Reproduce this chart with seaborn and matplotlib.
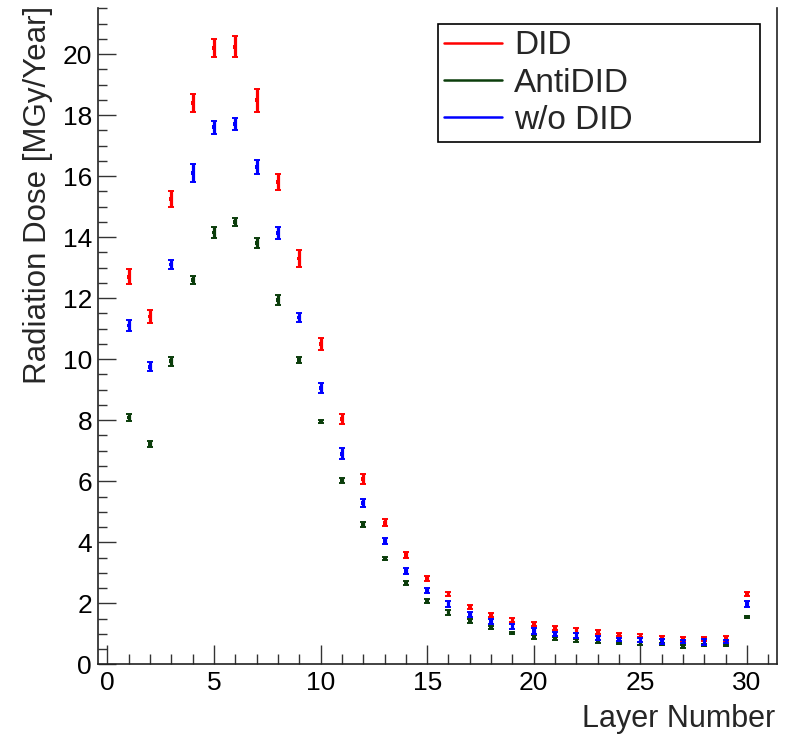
import matplotlib
matplotlib.use("Agg")
import matplotlib.pyplot as plt
from matplotlib.lines import Line2D
from matplotlib.ticker import MultipleLocator
import numpy as np
import pandas as pd
import seaborn as sns

layers = list(range(1, 31))

did = [12.7, 11.4, 15.25, 18.4, 20.2, 20.24, 18.49, 15.8, 13.3, 10.5,
       8.05, 6.07, 4.64, 3.58, 2.80, 2.30, 1.87, 1.62, 1.45, 1.32,
       1.18, 1.10, 1.05, 0.98, 0.94, 0.89, 0.83, 0.83, 0.85, 2.31]
did_err = [0.25, 0.20, 0.27, 0.30, 0.30, 0.34, 0.38, 0.26, 0.27, 0.20,
           0.16, 0.16, 0.12, 0.09, 0.08, 0.06, 0.07, 0.07, 0.06, 0.06,
           0.07, 0.08, 0.06, 0.06, 0.05, 0.05, 0.05, 0.05, 0.07, 0.07]

antidid = [8.09, 7.22, 9.93, 12.6, 14.15, 14.5, 13.8, 11.94, 9.97, 7.95,
           6.03, 4.57, 3.46, 2.66, 2.08, 1.69, 1.42, 1.20, 1.03, 0.90,
           0.86, 0.78, 0.75, 0.70, 0.68, 0.66, 0.60, 0.63, 0.63, 1.55]
antidid_err = [0.10, 0.09, 0.14, 0.12, 0.18, 0.14, 0.16, 0.18, 0.10, 0.05,
               0.09, 0.08, 0.05, 0.07, 0.06, 0.08, 0.05, 0.05, 0.04, 0.06,
               0.05, 0.04, 0.04, 0.04, 0.05, 0.04, 0.05, 0.04, 0.04, 0.04]

wodid = [11.1, 9.75, 13.1, 16.1, 17.6, 17.7, 16.3, 14.13, 11.37, 9.05,
         6.9, 5.28, 4.04, 3.06, 2.42, 1.97, 1.63, 1.39, 1.25, 1.10,
         1.00, 0.95, 0.86, 0.82, 0.80, 0.75, 0.76, 0.73, 0.76, 1.97]
wodid_err = [0.17, 0.15, 0.16, 0.30, 0.22, 0.20, 0.23, 0.20, 0.16, 0.17,
             0.18, 0.14, 0.11, 0.10, 0.08, 0.10, 0.08, 0.08, 0.08, 0.09,
             0.07, 0.09, 0.07, 0.05, 0.07, 0.07, 0.05, 0.09, 0.05, 0.09]

series_names = ["DID", "AntiDID", "w/o DID"]
colors = {"DID": "#ff0000", "AntiDID": "#0b3d0b", "w/o DID": "#0000ff"}

frames = []
for name, vals, errs in [("DID", did, did_err), ("AntiDID", antidid, antidid_err),
                         ("w/o DID", wodid, wodid_err)]:
    frames.append(pd.DataFrame({"layer": layers, "dose": vals, "err": errs, "series": name}))
df = pd.concat(frames, ignore_index=True)

sns.set_theme(style="ticks")
plt.rcParams["font.family"] = ["Liberation Sans", "DejaVu Sans"]

fig = plt.figure(figsize=(7.89, 7.38), dpi=100)
ax = fig.add_axes([0.1238, 0.0998, 0.8614, 0.889])

sns.scatterplot(data=df, x="layer", y="dose", hue="series", hue_order=series_names,
                palette=colors, marker="s", s=7, linewidth=0, legend=False, ax=ax, zorder=3)

for name in series_names:
    sub = df[df["series"] == name]
    ax.errorbar(sub["layer"], sub["dose"], yerr=sub["err"], fmt="none",
                ecolor=colors[name], elinewidth=2.3, capsize=2.0, capthick=1.4, zorder=4)

ax.set_xlim(-0.45, 31.42)
ax.set_ylim(0, 21.5)
ax.xaxis.set_major_locator(MultipleLocator(5))
ax.xaxis.set_minor_locator(MultipleLocator(1))
ax.yaxis.set_major_locator(MultipleLocator(2))
ax.yaxis.set_minor_locator(MultipleLocator(0.5))

ax.tick_params(axis="x", which="major", direction="in", length=14, width=1.0,
               labelsize=19, pad=5, colors="#333333", labelcolor="black")
ax.tick_params(axis="x", which="minor", direction="in", length=7, width=1.0, colors="#333333")
ax.tick_params(axis="y", which="major", direction="in", length=13, width=1.0,
               labelsize=19, pad=4, colors="#333333", labelcolor="black")
ax.tick_params(axis="y", which="minor", direction="in", length=6.5, width=1.0, colors="#333333")

for side in ["left", "bottom", "right"]:
    ax.spines[side].set_color("#222222")
    ax.spines[side].set_linewidth(1.2)
ax.spines["top"].set_visible(False)

ax.set_xlabel("Layer Number", fontsize=22, loc="right")
ax.xaxis.set_label_coords(0.997, -0.060)
ax.set_ylabel("Radiation Dose [MGy/Year]", fontsize=22.5, loc="top")
ax.yaxis.set_label_coords(-0.066, 1.003)

handles = [Line2D([0], [0], color=colors[n], lw=1.8) for n in series_names]
leg = ax.legend(handles, series_names, loc="upper left",
                bbox_to_anchor=(0.5008, 0.80, 0.4738, 0.1756), mode="expand",
                fontsize=24, frameon=True, fancybox=False, borderaxespad=0,
                handlelength=1.75, handletextpad=0.35, borderpad=0.18, labelspacing=0.19)
leg.get_frame().set_edgecolor("black")
leg.get_frame().set_linewidth(1.2)
leg.get_frame().set_alpha(1)

fig.savefig("out.png", dpi=100)
